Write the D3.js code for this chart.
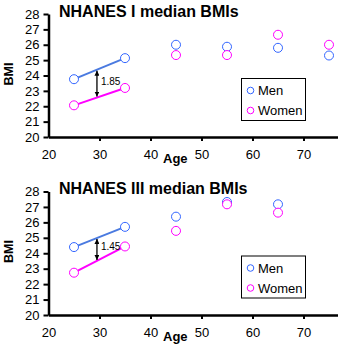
<!DOCTYPE html>
<html>
<head>
  <meta charset="utf-8">
  <script src="https://d3js.org/d3.v7.min.js"></script>
  <style>
    body { margin: 0; background: #fff; }
    text { font-family: "Liberation Sans", Arial, sans-serif; }
  </style>
</head>
<body>
<script>
  // data
  var ages = [25, 35, 45, 55, 65, 75];
  var menI = [23.76, 25.13, 26.0, 25.87, 25.8, 25.3];
  var womenI = [22.06, 23.19, 25.33, 25.33, 26.65, 26.0];
  var menIII = [24.4, 25.71, 26.37, 27.32, 27.17];
  var womenIII = [22.74, 24.44, 25.45, 27.17, 26.63];
  var yTicks = [20, 21, 22, 23, 24, 25, 26, 27, 28];
  var xTicks = [20, 30, 40, 50, 60, 70];
  var gapI = "1.85", gapIII = "1.45";

  var W = 338, H = 349;
  var blue = "#3366ff", lineBlue = "#4a7ae0", pink = "#ff00ff";

  var svg = d3.select("body").append("svg")
    .attr("width", W).attr("height", H);

  var defs = svg.append("defs");
  defs.append("marker")
    .attr("id", "arr")
    .attr("viewBox", "0 0 10 10")
    .attr("refX", 10).attr("refY", 5)
    .attr("markerWidth", 5).attr("markerHeight", 5)
    .attr("markerUnits", "userSpaceOnUse")
    .attr("orient", "auto-start-reverse")
    .append("path").attr("d", "M0,0L10,5L0,10Z").attr("fill", "#000");

  function panel(top, bottom, title, men, women, gap) {
    var x = d3.scaleLinear().domain([20, 80]).range([48.5, 354.5]);
    var y = d3.scaleLinear().domain([20, 28]).range([bottom, top]);
    var g = svg.append("g");

    var ya = g.append("g").attr("transform", "translate(48.5,0)")
      .call(d3.axisLeft(y).tickValues(yTicks).tickSize(5).tickSizeOuter(0).tickPadding(4));
    var xa = g.append("g").attr("transform", "translate(0," + bottom + ")")
      .call(d3.axisBottom(x).tickValues(xTicks).tickSize(4).tickSizeOuter(0).tickPadding(9));
    [ya, xa].forEach(function(a) {
      a.select(".domain").attr("stroke-width", 2.5);
      a.selectAll(".tick line").attr("stroke-width", 2);
      a.selectAll(".tick text").attr("font-size", 13)
        .attr("font-family", "'Liberation Sans', Arial, sans-serif");
    });
    xa.selectAll(".tick").filter(function(d) { return d === 20; }).select("line").remove();

    g.append("text").attr("x", 59).attr("y", top + 2.5)
      .attr("font-size", 16).attr("font-weight", "bold").text(title);
    g.append("text")
      .attr("transform", "translate(13," + (top + 60) + ") rotate(-90)")
      .attr("text-anchor", "middle").attr("font-size", 12.5).attr("font-weight", "bold")
      .text("BMI");
    g.append("text").attr("x", 163).attr("y", bottom + 26)
      .attr("font-size", 13).attr("font-weight", "bold").text("Age");

    // trend lines for the two youngest groups
    g.append("line")
      .attr("x1", x(ages[0])).attr("y1", y(men[0]))
      .attr("x2", x(ages[1])).attr("y2", y(men[1]))
      .attr("stroke", lineBlue).attr("stroke-width", 2);
    g.append("line")
      .attr("x1", x(ages[0])).attr("y1", y(women[0]))
      .attr("x2", x(ages[1])).attr("y2", y(women[1]))
      .attr("stroke", pink).attr("stroke-width", 2);

    // gap arrow
    var ax = 29.5, t = (ax - ages[0]) / (ages[1] - ages[0]);
    var mAt = men[0] + t * (men[1] - men[0]);
    var wAt = women[0] + t * (women[1] - women[0]);
    g.append("line")
      .attr("x1", x(ax)).attr("y1", y(mAt) + 1)
      .attr("x2", x(ax)).attr("y2", y(wAt) - 1)
      .attr("stroke", "#000").attr("stroke-width", 1.3)
      .attr("marker-start", "url(#arr)").attr("marker-end", "url(#arr)");
    g.append("text").attr("x", x(ax) + 4).attr("y", (y(mAt) + y(wAt)) / 2 + 1)
      .attr("font-family", "'Liberation Serif', serif").attr("font-size", 10)
      .text(gap);

    function dots(vals, col) {
      g.selectAll(null).data(vals).enter().append("circle")
        .attr("cx", function(d, i) { return x(ages[i]); })
        .attr("cy", function(d) { return y(d); })
        .attr("r", 4.5).attr("fill", "#fff")
        .attr("stroke", col).attr("stroke-width", 1);
    }
    dots(men, blue);
    dots(women, pink);

    // legend
    var lg = g.append("g").attr("transform", "translate(241.5," + (top + 64.5) + ")");
    lg.append("rect").attr("width", 64).attr("height", 42)
      .attr("fill", "#fff").attr("stroke", "#000").attr("stroke-width", 1);
    [["Men", blue], ["Women", pink]].forEach(function(s, i) {
      lg.append("circle").attr("cx", 9).attr("cy", 12 + i * 20).attr("r", 3.3)
        .attr("fill", "none").attr("stroke", s[1]);
      lg.append("text").attr("x", 16.5).attr("y", 16.5 + i * 20)
        .attr("font-size", 13).text(s[0]);
    });
  }

  panel(14, 137, "NHANES I median BMIs", menI, womenI, gapI);
  panel(191.5, 315, "NHANES III median BMIs", menIII, womenIII, gapIII);
</script>
</body>
</html>
